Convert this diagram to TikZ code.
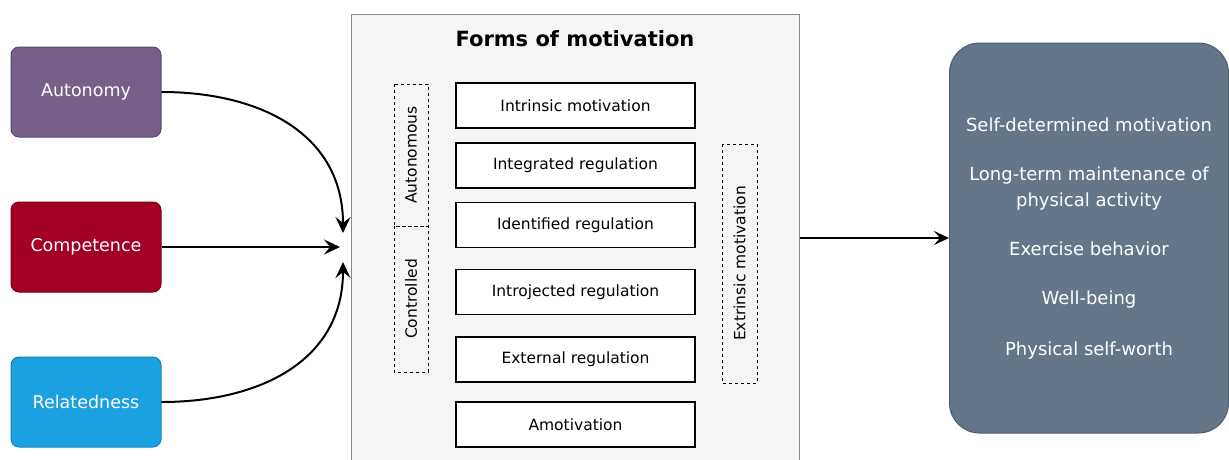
\documentclass[tikz,border=0pt]{standalone}
\usepackage{fontspec}
\setmainfont{DejaVu Sans}
\usetikzlibrary{arrows.meta}
\definecolor{autc}{HTML}{76608A}
\definecolor{autd}{HTML}{5A4670}
\definecolor{compc}{HTML}{A20025}
\definecolor{compd}{HTML}{7A0018}
\definecolor{relc}{HTML}{1BA1E2}
\definecolor{reld}{HTML}{1683BA}
\definecolor{formfill}{HTML}{F5F5F5}
\definecolor{formdraw}{HTML}{8A8A8A}
\definecolor{outfill}{HTML}{647687}
\definecolor{outdraw}{HTML}{4E5D6C}
\tikzset{
  leftbox/.style={draw, line width=1pt, rounded corners=8pt, minimum width=150pt, minimum height=90pt, text=white, font=\fontsize{17.5}{20}\selectfont},
  formbox/.style={draw, line width=1.5pt, fill=white, minimum width=239pt, minimum height=45pt, font=\fontsize{15.5}{18}\selectfont},
  dbox/.style={draw, dashed, line width=1pt, rotate=90, minimum height=34pt, font=\fontsize{15.5}{18}\selectfont, inner sep=0pt},
  arr/.style={line width=2pt, -{Stealth[length=16pt,width=15pt,inset=6pt]}},
}
\begin{document}
\begin{tikzpicture}[x=1pt,y=-1pt]
\useasboundingbox (0,0) rectangle (1229,459);
\fill[white] (0,0) rectangle (1229,459);
% left boxes
\node[leftbox, fill=autc, draw=autd] (aut) at (86,92) {Autonomy};
\node[leftbox, fill=compc, draw=compd] (comp) at (86,247) {Competence};
\node[leftbox, fill=relc, draw=reld] (rel) at (86,402) {Relatedness};
% middle frame
\node[draw=formdraw, fill=formfill, line width=1pt, minimum width=448pt, minimum height=470pt, anchor=north west, inner sep=0pt] (forms) at (351,14) {};
\node[font=\bfseries\fontsize{21}{24}\selectfont] (title) at (575,39) {Forms of motivation};
% targets of the left arrows
\coordinate (m1) at (343,233);
\coordinate (m2) at (340,247);
\coordinate (m3) at (343,262);
\draw[arr] (aut.east) to[out=0, in=90, looseness=1.1] (m1);
\draw[arr] (comp.east) -- (m2);
\draw[arr] (rel.east) to[out=0, in=-90, looseness=1.1] (m3);
% inner boxes
\node[formbox] (intr) at (575.5,105.5) {Intrinsic motivation};
\node[formbox] (integ) at (575.5,165.5) {Integrated regulation};
\node[formbox] (ident) at (575.5,225) {Identified regulation};
\node[formbox] (intro) at (575.5,292) {Introjected regulation};
\node[formbox] (ext) at (575.5,359.5) {External regulation};
\node[formbox] (amot) at (575.5,424.5) {Amotivation};
% dashed groups
\node[dbox, minimum width=142pt] (autonomous) at (411,155) {Autonomous};
\node[dbox, minimum width=146pt] (controlled) at (411,299) {Controlled};
\node[dbox, minimum width=239pt, minimum height=35pt] (extr) at (739.5,263.5) {Extrinsic motivation};
% outcome box
\node[draw=outdraw, fill=outfill, line width=1pt, rounded corners=30pt, minimum width=279pt, minimum height=390pt, text=white, font=\fontsize{18}{26}\selectfont] (out) at (1089,238) {\raisebox{-7pt}{\begin{tabular}{@{}c@{}}Self-determined motivation\\[23pt]Long-term maintenance of\\physical activity\\[23pt]Exercise behavior\\[23pt]Well-being\\[25pt]Physical self-worth\end{tabular}}};
\draw[line width=1.6pt, -{Stealth[length=15pt,width=14pt,inset=6pt]}] (forms.east |- out.west) -- (out.west);
\end{tikzpicture}
\end{document}
